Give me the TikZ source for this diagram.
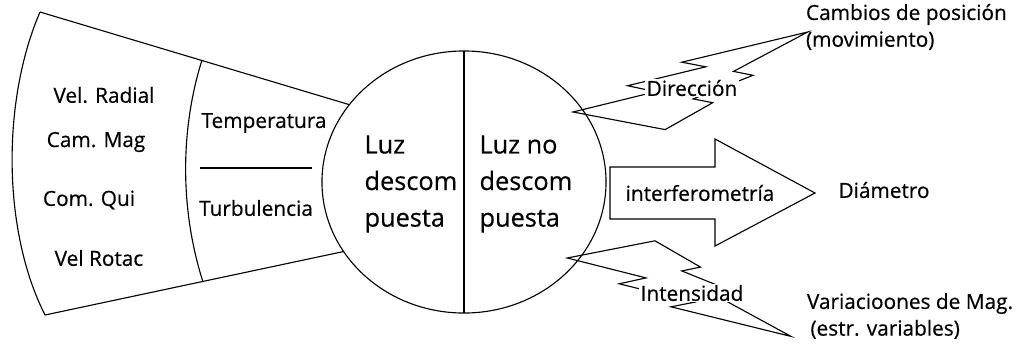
\documentclass[tikz,border=0pt]{standalone}
\usepackage{fontspec}
\setmainfont{Open Sans}[FakeBold=0.5]
\usetikzlibrary{shapes.geometric}

\begin{document}
\begin{tikzpicture}[x=0.025cm,y=-0.025cm,line width=0.8pt,
  lbl/.style={inner sep=1pt,font=\fontsize{14.8}{19}\selectfont},
  big/.style={inner sep=0pt,align=left,anchor=west,font=\fontsize{18}{26}\selectfont},
  cover/.style={lbl,fill=white}]
  \useasboundingbox (0,0) rectangle (1016,350);
  % split circle
  \node[draw,ellipse,minimum width=7.1cm,minimum height=6.55cm,inner sep=0pt,outer sep=0pt] (luz) at (464,182) {};
  \draw (luz.north) -- (luz.south);
  % fan on the left
  \coordinate (ftl) at (40,12);
  \coordinate (fbl) at (45,315);
  \draw (ftl) -- (luz.146);
  \draw (fbl) -- (luz.210);
  \draw (ftl) .. controls (2,100) and (2,230) .. (fbl);
  \draw (202,60) .. controls (180,130) and (180,210) .. (203,282);
  \draw (200,168) -- (312,168);
  % lightning bolts
  \draw (665.1,129.6) -- (573,112) -- (655.6,91.7) -- (627.6,85.7) -- (705.8,66.8) -- (681.8,62.2)
    -- (807.7,32) -- (733.5,71.4) -- (753.1,75.3) -- (693.1,98.9) -- (712.7,102.7) -- cycle;
  \draw (655,240.8) -- (567.2,258) -- (646,277.9) -- (619.2,283.8) -- (693.9,302.3) -- (671,306.8)
    -- (791,336.4) -- (720.2,297.8) -- (739,294) -- (681.7,270.9) -- (700.5,267.1) -- cycle;
  % block arrow
  \draw[fill=white] (610,167) -- (715,167) -- (715,139) -- (815,193) -- (715,246) -- (715,219) -- (610,219) -- cycle;
  % labels
  \node[lbl] (vrad) at (104,95) {Vel. Radial};
  \node[lbl] (cmag) at (96,142) {Cam. Mag};
  \node[lbl] (cqui) at (89,200) {Com. Qui};
  \node[lbl] (vrot) at (99,258) {Vel Rotac};
  \node[lbl] (temp) at (264,123) {Temperatura};
  \node[lbl] (turb) at (256,208) {Turbulencia};
  \node[big] (luzd) at (364,184) {Luz\\descom\\puesta};
  \node[big] (luzn) at (479,184) {Luz no\\descom\\puesta};
  \node[lbl] (interf) at (700,193) {interferometría};
  \node[lbl] (diam) at (884,190) {Diámetro};
  \node[cover] (dir) at (692,88) {Dirección};
  \node[cover] (inten) at (692,293) {Intensidad};
  \node[lbl,align=left,anchor=west] (camb) at (804,27) {Cambios de posición\\(movimiento)};
  \node[lbl,align=left,anchor=west] (varmag) at (805,316) {Variacioones de Mag.\\\,(estr. variables)};
\end{tikzpicture}
\end{document}
